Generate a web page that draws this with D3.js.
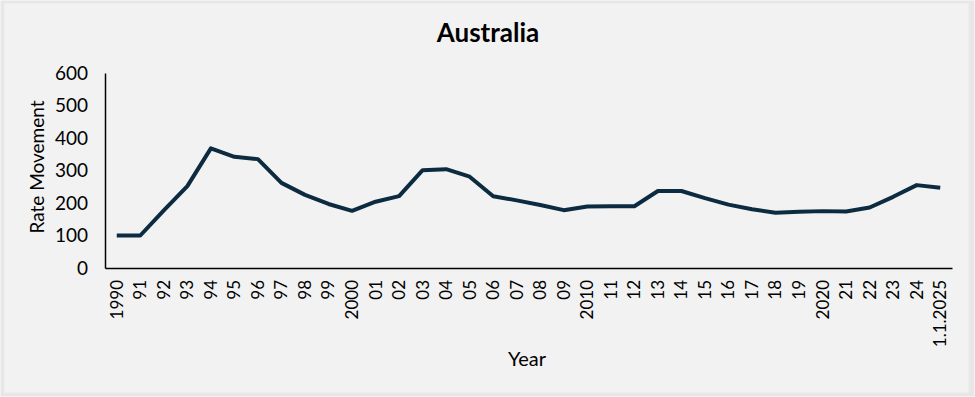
<!DOCTYPE html>
<html>
<head>
<meta charset="utf-8">
<script src="https://cdn.jsdelivr.net/npm/d3@7"></script>
<style>
  body { margin: 0; background: #ffffff; }
  text { font-family: Lato, "Open Sans", sans-serif; }
</style>
</head>
<body>
<div class="chart"></div>
<script>
// year labels as printed on the axis
var years = ["1990","91","92","93","94","95","96","97","98","99",
  "2000","01","02","03","04","05","06","07","08","09",
  "2010","11","12","13","14","15","16","17","18","19",
  "2020","21","22","23","24","1.1.2025"];

// rate movement
var rates = [100,100,177,252,368,342,335,262,225,197,
  176,204,221,301,304,281,221,208,194,178,
  189,190,190,237,237,215,195,181,170,173,
  175,174,186,219,255,247];

var yTicks = [0,100,200,300,400,500,600];

var width = 975, height = 397;
var margin = {top: 73, right: 23, bottom: 129, left: 105};

var svg = d3.select(".chart").append("svg")
    .attr("width", width)
    .attr("height", height);

// panel background + border
svg.append("rect")
    .attr("x", 0.5).attr("y", 0.5)
    .attr("width", width - 1).attr("height", height - 1)
    .attr("fill", "#e6e6e6");
svg.append("rect")
    .attr("x", 4).attr("y", 3)
    .attr("width", width - 10).attr("height", height - 7)
    .attr("fill", "#f2f2f2")
    .attr("stroke", "#e9e9e9");

var x = d3.scaleBand()
    .domain(years)
    .range([margin.left, width - margin.right]);

var y = d3.scaleLinear()
    .domain([0, 600])
    .range([height - margin.bottom, margin.top]);

// title
svg.append("text")
    .attr("x", 488)
    .attr("y", 42)
    .attr("text-anchor", "middle")
    .style("font-size", "26px")
    .style("font-weight", "bold")
    .attr("fill", "#000")
    .text("Australia");

// y axis
var yAxis = svg.append("g")
    .attr("transform", "translate(" + margin.left + ",0)")
    .call(d3.axisLeft(y).tickValues(yTicks).tickSize(0).tickPadding(17));
yAxis.select(".domain").attr("stroke", "#000").attr("stroke-width", 1.5);
yAxis.selectAll("text")
    .style("font-size", "19px")
    .attr("fill", "#000");

// x axis
var xAxis = svg.append("g")
    .attr("transform", "translate(0," + (height - margin.bottom) + ")")
    .call(d3.axisBottom(x).tickSize(0).tickPadding(0));
xAxis.select(".domain").attr("stroke", "#000").attr("stroke-width", 1.5);
xAxis.selectAll("text")
    .style("font-size", "17px")
    .attr("fill", "#000")
    .attr("text-anchor", "end")
    .attr("dy", "0.35em")
    .attr("transform", "translate(0,12) rotate(-90)")
    .attr("y", 0)
    .attr("x", 0);

// axis titles
svg.append("text")
    .attr("transform", "translate(44,167) rotate(-90)")
    .attr("text-anchor", "middle")
    .style("font-size", "19px")
    .attr("fill", "#000")
    .text("Rate Movement");

svg.append("text")
    .attr("x", 527)
    .attr("y", 366)
    .attr("text-anchor", "middle")
    .style("font-size", "20px")
    .attr("fill", "#000")
    .text("Year");

// the line
var line = d3.line()
    .x(function(d, i) { return x(years[i]) + x.bandwidth() / 2; })
    .y(function(d) { return y(d); });

svg.append("path")
    .datum(rates)
    .attr("fill", "none")
    .attr("stroke", "#0d2b40")
    .attr("stroke-width", 4)
    .attr("stroke-linejoin", "round")
    .attr("d", line);
</script>
</body>
</html>
